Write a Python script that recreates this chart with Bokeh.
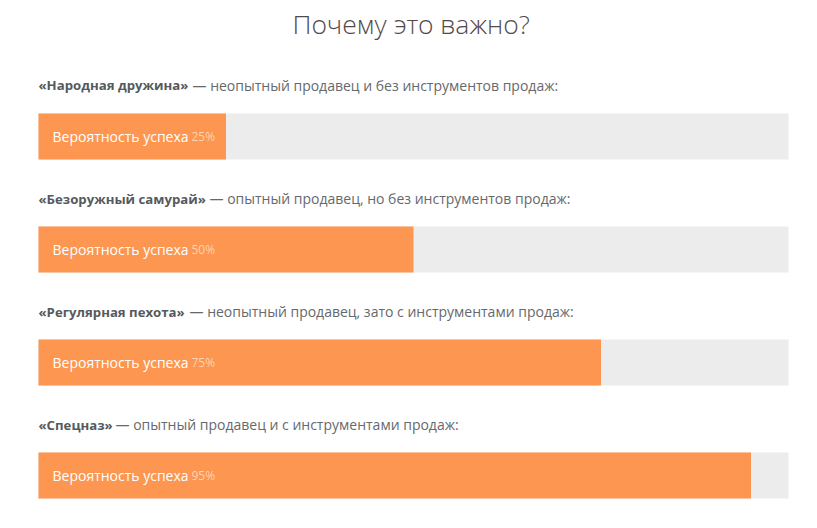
from bokeh.plotting import figure
from bokeh.models import Range1d, ColumnDataSource
from bokeh.core.properties import value
from bokeh.embed import file_html
from bokeh.resources import INLINE

# ---- data ----
title_text = "Почему это важно?"
names = ["«Народная дружина»", "«Безоружный самурай»", "«Регулярная пехота»", "«Спецназ»"]
descriptions = [
    "— неопытный продавец и без инструментов продаж:",
    "— опытный продавец, но без инструментов продаж:",
    "— неопытный продавец, зато с инструментами продаж:",
    "— опытный продавец и с инструментами продаж:",
]
probabilities = [25, 50, 75, 95]
bar_label = "Вероятность успеха"

# ---- styles / layout ----
FONT = value("Open Sans")
ORANGE = "#fc9650"
TRACK = "#ececec"
rows = list(range(len(names)))
desc_offset_px = [154, 171, 151, 77]  # where the plain part of each label starts

W, H = 801, 512
p = figure(width=W, height=H, output_backend="svg", toolbar_location=None,
           x_range=Range1d(-5.0667, 101.733), y_range=Range1d(3.3274, -1.2035),
           min_border=0, outline_line_color=None)
p.axis.visible = False
p.grid.visible = False
p.background_fill_color = "white"
p.border_fill_color = "white"

LAB_DY = -0.4513
src = ColumnDataSource(dict(
    row=rows,
    zero=[0] * len(rows),
    full=[100] * len(rows),
    prob=probabilities,
    name=names,
    label=[bar_label] * len(rows),
    pct=[f"{v}%" for v in probabilities],
    ylab=[r + LAB_DY for r in rows],
))

bar_h = 46 / 113
p.hbar(y="row", left="zero", right="full", height=bar_h, source=src,
       fill_color=TRACK, line_color=None)
p.hbar(y="row", left="zero", right="prob", height=bar_h, source=src,
       fill_color=ORANGE, line_color=None)

# inside-bar text
p.text(x="zero", y="row", text="label", source=src, x_offset=14,
       text_font=FONT, text_font_size="14px", text_color="white",
       text_baseline="middle", text_align="left")
p.text(x="zero", y="row", text="pct", source=src, x_offset=153,
       text_font=FONT, text_font_size="12px", text_color="#fdd3b3",
       text_baseline="middle", text_align="left")

# row labels
p.text(x="zero", y="ylab", text="name", source=src,
       text_font=FONT, text_font_size="13.2px", text_font_style="bold",
       text_color="#555a5e", text_baseline="alphabetic", text_align="left")
for r, d, dx in zip(rows, descriptions, desc_offset_px):
    p.text(x=[0], y=[r + LAB_DY], text=[d], x_offset=dx,
           text_font=FONT, text_font_size="14px",
           text_color="#66696c", text_baseline="alphabetic", text_align="left")

# title
p.text(x=[49.7], y=[-0.9912], text=[title_text],
       text_font=value("Open Sans Light"), text_font_size="26.5px",
       text_color="#54494a", text_baseline="alphabetic", text_align="center")

open("out.html", "w").write(file_html(p, INLINE))
